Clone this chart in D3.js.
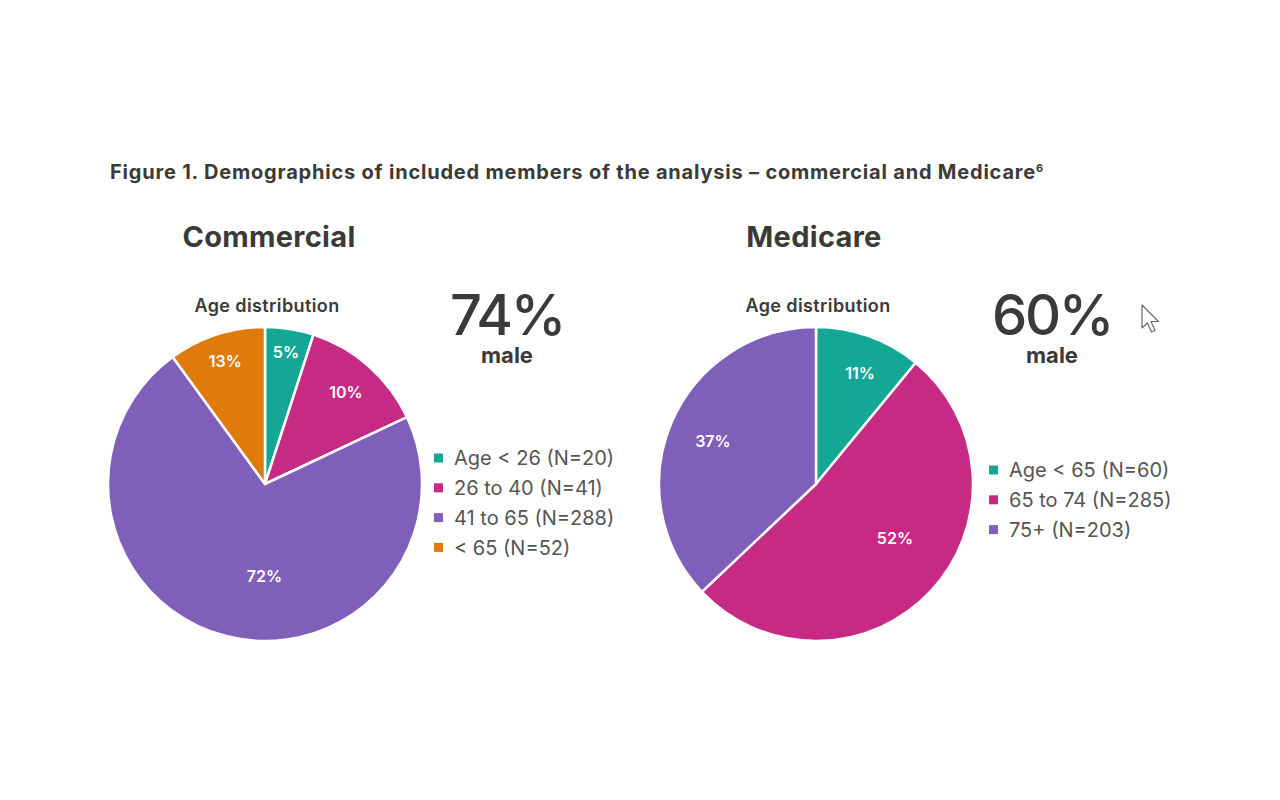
<!DOCTYPE html>
<html>
<head>
<meta charset="utf-8">
<script src="https://cdn.jsdelivr.net/npm/d3@7"></script>
<style>
  html, body { margin: 0; padding: 0; background: #fff; }
  svg { display: block; font-family: Inter, "Noto Sans", sans-serif; }
</style>
</head>
<body>
<svg id="chart" width="1280" height="800"></svg>
<script>
// ---- data ----
const titleText = "Figure 1. Demographics of included members of the analysis \u2013 commercial and Medicare";
const titleSup = "6";

const commercialCategories = ["Age < 26 (N=20)", "26 to 40 (N=41)", "41 to 65 (N=288)", "< 65 (N=52)"];
const commercialValues = [5, 13, 72, 10];          // slice sizes as drawn
const commercialLabels = ["5%", "10%", "72%", "13%"]; // printed labels
const commercialMale = "74%";

const medicareCategories = ["Age < 65 (N=60)", "65 to 74 (N=285)", "75+ (N=203)"];
const medicareValues = [60, 285, 203];
const medicareLabels = ["11%", "52%", "37%"];
const medicareMale = "60%";

const colors = ["#14a795", "#c72a84", "#7f5fba", "#e07a0b"];
const textDark = "#3b3a38";
const textLegend = "#555552";

const svg = d3.select("#chart");

// title
const t = svg.append("text")
  .attr("x", 110).attr("y", 179)
  .attr("font-size", 20).attr("font-weight", 700)
  .attr("fill", textDark)
  .attr("letter-spacing", 0.8);
t.append("tspan").text(titleText);
t.append("tspan").attr("font-size", 11).attr("dy", -7).attr("dx", 0).attr("letter-spacing", 0).text(titleSup);

function drawPanel(cfg) {
  const g = svg.append("g");
  const R = 157;
  const cx = cfg.cx, cy = 484;

  g.append("text").attr("x", cfg.headX).attr("y", 247)
    .attr("text-anchor", "middle").attr("font-size", 29).attr("font-weight", 700)
    .attr("fill", textDark).attr("letter-spacing", 0.3).text(cfg.name);

  g.append("text").attr("x", cx + 2).attr("y", 312)
    .attr("text-anchor", "middle").attr("font-size", 18).attr("font-weight", 600)
    .attr("fill", textDark).attr("letter-spacing", 0.4).text("Age distribution");

  const m = g.append("text").attr("text-anchor", "middle").attr("fill", textDark);
  m.append("tspan").attr("x", cfg.maleX).attr("y", 335)
    .attr("font-size", 56).attr("font-weight", 500).attr("letter-spacing", -2.3).text(cfg.male);
  m.append("tspan").attr("x", cfg.maleX).attr("y", 363)
    .attr("font-size", 22).attr("font-weight", 700).attr("letter-spacing", 0).text("male");

  const pie = d3.pie().sort(null).value(d => d)(cfg.values);
  const arc = d3.arc().innerRadius(0).outerRadius(R);

  const pg = g.append("g").attr("transform", `translate(${cx},${cy})`);
  pg.selectAll("path").data(pie).join("path")
    .attr("d", arc)
    .attr("fill", (d, i) => colors[i])
    .attr("stroke", "#fff").attr("stroke-width", 2.5).attr("stroke-linejoin", "round");

  pg.selectAll("text.lbl").data(pie).join("text")
    .attr("class", "lbl")
    .attr("transform", (d, i) => {
      const a = (d.startAngle + d.endAngle) / 2 + cfg.labelNudge[i] * Math.PI / 180;
      const lr = R * cfg.labelR[i];
      return `translate(${Math.sin(a) * lr},${-Math.cos(a) * lr})`;
    })
    .attr("text-anchor", "middle").attr("dy", "0.36em")
    .attr("font-size", 16).attr("font-weight", 600).attr("fill", "#fff")
    .text((d, i) => cfg.labels[i]);

  const lg = g.append("g").attr("transform", `translate(${cfg.legX},${cfg.legY})`);
  const rows = lg.selectAll("g").data(cfg.categories).join("g")
    .attr("transform", (d, i) => `translate(0,${i * 29.8})`);
  rows.append("rect").attr("x", 0).attr("y", -4.5).attr("width", 9).attr("height", 9)
    .attr("fill", (d, i) => colors[i]);
  rows.append("text").attr("x", 20).attr("y", 0).attr("dy", "0.36em")
    .attr("font-size", 20).attr("font-weight", 400).attr("fill", textLegend)
    .text(d => d);
}

drawPanel({ name: "Commercial", headX: 269, cx: 265, maleX: 507,
  values: commercialValues, labels: commercialLabels, categories: commercialCategories,
  labelR: [0.85, 0.78, 0.59, 0.82], labelNudge: [0, 0, -14, 0],
  male: commercialMale, legX: 434, legY: 458 });
drawPanel({ name: "Medicare", headX: 814, cx: 816, maleX: 1052,
  values: medicareValues, labels: medicareLabels, categories: medicareCategories,
  labelR: [0.76, 0.61, 0.71], labelNudge: [2, -8.5, -1],
  male: medicareMale, legX: 989, legY: 470 });

// mouse pointer seen in the screenshot
svg.append("path")
  .attr("d", "M1142,305 L1142,328 L1147.5,323 L1151.5,332 L1155,330.5 L1151,321.5 L1158.5,321.5 Z")
  .attr("fill", "#fff").attr("stroke", "#6a6a6a").attr("stroke-width", 1.2)
  .attr("stroke-linejoin", "round");
</script>
</body>
</html>
